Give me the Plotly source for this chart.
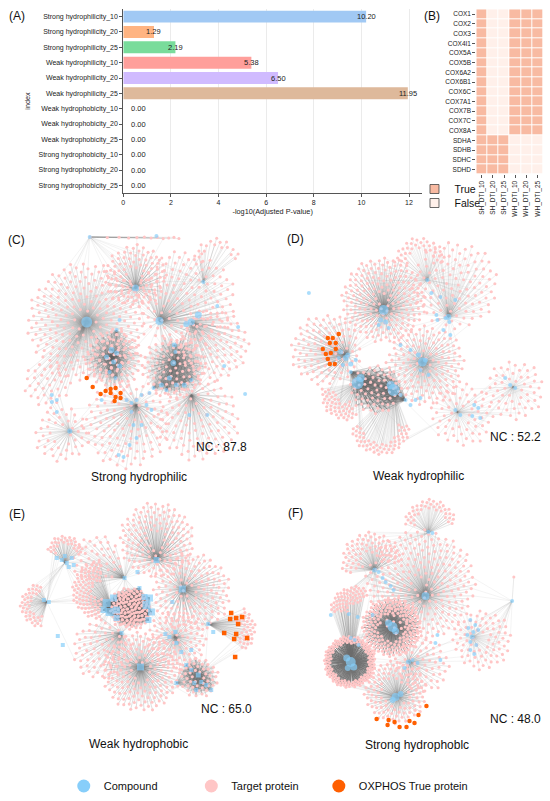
import math
import plotly.graph_objects as go

# ---------------- Panel A data ----------------
CATEGORIES = [
    "Strong hydrophilicity_10", "Strong hydrophilicity_20", "Strong hydrophilicity_25",
    "Weak hydrophilicity_10", "Weak hydrophilicity_20", "Weak hydrophilicity_25",
    "Weak hydrophobicity_10", "Weak hydrophobicity_20", "Weak hydrophobicity_25",
    "Strong hydrophobicity_10", "Strong hydrophobicity_20", "Strong hydrophobicity_25",
]
NEG_LOG10_P = [10.20, 1.29, 2.19, 5.38, 6.50, 11.95, 0.00, 0.00, 0.00, 0.00, 0.00, 0.00]
BAR_COLORS = ["#a1c9f4", "#ffb482", "#79dc9b", "#ff9f9b", "#d0bbff", "#deb99b",
              "#fab0e4", "#cfcfcf", "#fffea3", "#b9f2f0", "#a1c9f4", "#ffb482"]
X_TICKS = [0, 2, 4, 6, 8, 10, 12]

# ---------------- Panel B data ----------------
GENES = ["COX1", "COX2", "COX3", "COX4I1", "COX5A", "COX5B", "COX6A2", "COX6B1",
         "COX6C", "COX7A1", "COX7B", "COX7C", "COX8A", "SDHA", "SDHB", "SDHC", "SDHD"]
DTI_SETS = ["SH_DTI_10", "SH_DTI_20", "SH_DTI_25", "WH_DTI_10", "WH_DTI_20", "WH_DTI_25"]
COX_ROW = [1, 0, 0, 1, 1, 1]
SDH_ROW = [1, 1, 1, 0, 0, 0]
TRUE_MATRIX = [COX_ROW] * 13 + [SDH_ROW] * 4

# ---------------- Network panels (page-pixel layout specs) ----------------
# cluster: (cx, cy, radius, n_targets, hub_x, hub_y, hub_size, edge_alpha, ang0, ang1, inner)
C_CLUSTERS = [
    (85, 322, 60, 230, 85, 322, 11, 0.35, 0, 360, 0.15),
    (134, 276, 32, 95, 134, 288, 7, 0.40, 0, 360, 0.2),
    (185, 300, 50, 140, 158, 321, 8, 0.28, 0, 360, 0.0),
    (212, 345, 36, 90, 190, 322, 7, 0.28, 0, 360, 0.0),
    (112, 360, 30, 80, 110, 357, 0, 0.45, 0, 360, 0.0),
    (172, 368, 32, 90, 173, 362, 0, 0.45, 0, 360, 0.0),
    (125, 425, 44, 110, 135, 405, 0, 0.28, 0, 360, 0.0),
    (197, 420, 42, 100, 190, 395, 0, 0.28, 0, 360, 0.0),
    (60, 435, 28, 45, 68, 431, 5, 0.30, 0, 360, 0.3),
    (215, 262, 24, 18, 202, 282, 0, 0.30, 180, 360, 0.6),
    (45, 385, 24, 35, 85, 322, 0, 0.22, 0, 360, 0.0),
    (65, 237, 115, 12, 88, 237, 0, 0.25, 0, 1, 0.0),
]
C_COMPOUNDS = [
    (110, 350, 6), (115, 353, 5), (105, 357, 5), (112, 362, 5), (118, 366, 5), (108, 372, 4),
    (114, 378, 4), (173, 345, 5), (174, 352, 4), (172, 363, 6), (168, 378, 5), (160, 385, 5),
    (175, 385, 5), (183, 385, 5), (190, 380, 4), (165, 390, 4), (152, 388, 4), (148, 393, 4),
    (140, 395, 4), (135, 400, 4), (130, 403, 4), (125, 400, 4), (145, 405, 4), (150, 410, 4),
    (130, 412, 4), (132, 425, 4), (140, 425, 4), (135, 438, 4), (128, 445, 4), (117, 455, 4),
    (122, 457, 4), (100, 400, 4), (50, 395, 4), (55, 400, 4), (50, 402, 4), (55, 412, 4),
    (237, 327, 4), (216, 306, 4), (223, 366, 4), (244, 394, 4), (206, 415, 4), (188, 415, 4),
    (202, 282, 4), (88, 237, 4), (155, 236, 4), (115, 330, 4), (118, 320, 4), (197, 315, 7),
    (185, 324, 6),
]
C_OXPHOS = [(85, 378), (91, 387), (99, 394), (104, 391), (109, 393), (114, 388), (114, 397),
            (119, 393), (119, 398), (113, 401), (109, 389)]
C_DENSE = [(110, 360, 30, 0.09), (173, 365, 32, 0.09)]

D_CLUSTERS = [
    (383, 300, 43, 190, 383, 310, 10, 0.45, 0, 360, 0.1),
    (425, 365, 40, 130, 422, 362, 9, 0.40, 0, 360, 0.1),
    (325, 350, 36, 100, 347, 355, 5, 0.40, 0, 360, 0.0),
    (374, 390, 25, 60, 357, 383, 12, 0.55, 0, 360, 0.0),
    (455, 285, 44, 110, 448, 317, 0, 0.20, 0, 360, 0.0),
    (462, 415, 32, 60, 457, 412, 0, 0.18, 0, 360, 0.2),
    (515, 390, 30, 55, 513, 387, 0, 0.18, 0, 360, 0.2),
    (380, 425, 30, 55, 393, 390, 0, 0.25, 0, 180, 0.6),
    (345, 395, 25, 45, 357, 383, 0, 0.25, 60, 200, 0.3),
    (420, 263, 26, 35, 427, 280, 0, 0.20, 180, 360, 0.5),
]
D_COMPOUNDS = [
    (308, 293, 4), (427, 280, 4), (431, 293, 4), (440, 297, 4), (436, 315, 4), (445, 318, 4),
    (449, 322, 4), (437, 320, 4), (443, 330, 4), (450, 335, 4), (448, 317, 6), (455, 300, 4),
    (380, 320, 5), (385, 322, 5), (378, 325, 4), (388, 328, 4), (340, 352, 5), (345, 358, 6),
    (350, 364, 5), (355, 360, 4), (342, 365, 4), (338, 358, 4), (350, 372, 4), (400, 395, 4),
    (405, 400, 4), (410, 405, 4), (415, 400, 4), (420, 398, 4), (418, 355, 5), (425, 360, 5),
    (420, 370, 4), (428, 375, 4), (505, 378, 4), (510, 385, 4), (515, 388, 4), (474, 405, 4),
    (478, 408, 4), (472, 416, 4), (480, 418, 4), (455, 410, 4), (460, 415, 4), (410, 350, 4),
    (400, 345, 4), (393, 390, 12), (360, 378, 8), (390, 385, 8),
]
D_OXPHOS = [(327, 338), (329, 343), (335, 343), (338, 334), (322, 349), (325, 354), (330, 353),
            (335, 349), (327, 359), (329, 364), (334, 364), (332, 338)]
D_DENSE = [(375, 390, 27, 0.35)]

E_CLUSTERS = [
    (155, 540, 38, 140, 155, 560, 6, 0.40, 0, 360, 0.2),
    (190, 592, 40, 140, 181, 589, 7, 0.40, 0, 360, 0.1),
    (128, 607, 20, 90, 110, 607, 0, 0.50, 0, 360, 0.0),
    (130, 610, 20, 80, 147, 605, 0, 0.50, 0, 360, 0.0),
    (140, 672, 40, 160, 139, 667, 7, 0.45, 0, 360, 0.2),
    (100, 590, 30, 90, 110, 607, 0, 0.30, 90, 270, 0.3),
    (175, 640, 30, 90, 174, 637, 0, 0.35, 0, 360, 0.0),
    (198, 678, 20, 50, 197, 675, 0, 0.50, 0, 360, 0.2),
    (230, 630, 25, 35, 207, 624, 0, 0.30, -60, 60, 0.4),
    (63, 553, 18, 30, 63, 563, 0, 0.45, 180, 360, 0.5),
    (40, 605, 22, 40, 45, 602, 0, 0.35, 90, 270, 0.5),
    (100, 650, 30, 70, 120, 633, 0, 0.30, 0, 360, 0.0),
    (95, 560, 25, 45, 123, 578, 0, 0.30, 0, 360, 0.0),
]
E_COMPOUNDS = [
    (105, 603, 8), (112, 598, 7), (108, 612, 8), (115, 610, 7), (102, 610, 6), (115, 618, 6),
    (148, 598, 7), (145, 605, 8), (150, 612, 7), (147, 620, 6), (143, 597, 6),
    (190, 670, 4), (200, 682, 4), (205, 685, 4), (193, 683, 4), (185, 665, 4), (195, 690, 4),
    (210, 690, 4), (180, 652, 4), (174, 632, 4), (175, 643, 4), (168, 637, 4), (171, 602, 4),
    (136, 572, 4), (138, 588, 4), (123, 578, 4), (120, 633, 4), (207, 624, 4), (212, 632, 4),
    (164, 634, 4), (55, 558, 4), (60, 560, 4), (65, 563, 4), (70, 558, 4), (72, 565, 4),
    (67, 567, 4), (63, 556, 4), (42, 600, 4), (47, 602, 4), (56, 636, 4), (61, 645, 4),
    (190, 650, 4), (175, 683, 4), (197, 675, 5),
]
E_OXPHOS = [(230, 613), (235, 618), (241, 617), (229, 619), (237, 624), (223, 633), (235, 634),
            (246, 638), (233, 639), (234, 657)]
E_DENSE = [(128, 607, 22, 0.2), (197, 677, 20, 0.18)]

F_CLUSTERS = [
    (430, 525, 26, 40, 428, 533, 0, 0.30, 180, 360, 0.6),
    (370, 562, 30, 65, 374, 570, 5, 0.35, 150, 360, 0.3),
    (420, 585, 56, 240, 425, 596, 8, 0.30, 0, 360, 0.1),
    (391, 627, 30, 170, 392, 627, 0, 0.65, 0, 360, 0.45),
    (349, 662, 26, 140, 350, 662, 0, 0.90, 0, 360, 0.72),
    (482, 640, 30, 75, 472, 637, 0, 0.18, 0, 360, 0.2),
    (395, 692, 32, 110, 397, 697, 0, 0.45, 0, 360, 0.4),
    (422, 665, 28, 60, 408, 662, 0, 0.30, 0, 360, 0.0),
    (355, 612, 26, 55, 350, 662, 0, 0.30, 180, 300, 0.3),
    (513, 577, 1, 1, 512, 601, 0, 0.30, 0, 360, 0.0),
]
F_COMPOUNDS = [
    (428, 532, 4), (432, 533, 4), (378, 572, 4), (382, 578, 4), (385, 582, 4),
    (390, 586, 4), (393, 590, 4), (392, 627, 10), (388, 623, 7), (395, 631, 7), (350, 662, 10),
    (346, 658, 7), (353, 667, 7), (347, 668, 6), (395, 697, 8), (400, 694, 6), (392, 700, 6),
    (408, 662, 5), (412, 660, 4), (404, 668, 4), (417, 663, 4), (470, 620, 4), (475, 625, 4),
    (468, 628, 4), (473, 632, 4), (478, 630, 4), (472, 637, 5), (470, 642, 4), (476, 645, 4),
    (470, 650, 4), (474, 654, 4), (467, 635, 4), (512, 601, 4), (435, 643, 4), (437, 635, 4),
    (440, 660, 4), (357, 617, 4), (354, 640, 4), (358, 645, 4), (350, 638, 4), (330, 615, 4),
    (348, 614, 4), (372, 615, 4),
]
F_OXPHOS = [(376, 719), (388, 720), (394, 722), (387, 725), (399, 727), (406, 727), (409, 721),
            (414, 723), (418, 715), (426, 706)]
F_DENSE = []

NETWORKS = [
    ("(C)", "Strong hydrophilic", "NC : 87.8", C_CLUSTERS, C_COMPOUNDS, C_OXPHOS, C_DENSE,
     "circle", (15, 240), (137, 477), (220, 447)),
    ("(D)", "Weak hydrophilic", "NC : 52.2", D_CLUSTERS, D_COMPOUNDS, D_OXPHOS, D_DENSE,
     "circle", (295, 239), (418, 476), (515, 437)),
    ("(E)", "Weak hydrophobic", "NC : 65.0", E_CLUSTERS, E_COMPOUNDS, E_OXPHOS, E_DENSE,
     "square", (15, 514), (137, 744), (225, 709)),
    ("(F)", "Strong hydrophoblc", "NC : 48.0", F_CLUSTERS, F_COMPOUNDS, F_OXPHOS, F_DENSE,
     "circle", (295, 513), (417, 745), (515, 719)),
]

COMPOUND_COLOR = "#87cefa"
TARGET_COLOR = "#ffc6c6"
OXPHOS_COLOR = "#ff5f00"
TRUE_COLOR = "#f8baa2"
FALSE_COLOR = "#fff0ea"
FONT = "Liberation Sans"

GOLDEN = math.pi * (3 - math.sqrt(5))
PHI_FRAC = 0.6180339887


def place_targets(cx, cy, r, n, a0, a1, inner):
    pts = []
    span = a1 - a0
    for i in range(n):
        f = inner * inner + (1 - inner * inner) * (i + 0.5) / n
        rr = r * math.sqrt(f)
        if span >= 360:
            th = i * GOLDEN
        else:
            th = math.radians(a0 + ((i * PHI_FRAC) % 1.0) * span)
        pts.append((cx + rr * math.cos(th), cy + rr * math.sin(th)))
    return pts


fig = go.Figure()

# ---- Panel A: horizontal bars ----
fig.add_trace(go.Bar(
    x=NEG_LOG10_P, y=CATEGORIES, orientation="h", marker=dict(color=BAR_COLORS, line_width=0),
    width=0.78, showlegend=False, xaxis="x", yaxis="y", hoverinfo="x+y"))

annotations = []
for cat, v in zip(CATEGORIES, NEG_LOG10_P):
    annotations.append(dict(
        x=v if v > 0 else 0.62, y=cat, xref="x", yref="y", text=f"{v:.2f}", showarrow=False,
        xanchor="center", yanchor="middle", font=dict(family=FONT, size=7.5, color="#222")))

# ---- Panel B: heatmap ----
fig.add_trace(go.Heatmap(
    z=TRUE_MATRIX, x=DTI_SETS, y=GENES, colorscale=[[0, FALSE_COLOR], [1, TRUE_COLOR]],
    zmin=0, zmax=1, showscale=False, xgap=1, ygap=1, xaxis="x2", yaxis="y2"))
for name, col, lg in (("True", TRUE_COLOR, "legend"), ("False", FALSE_COLOR, "legend2")):
    fig.add_trace(go.Scatter(
        x=[None], y=[None], mode="markers", name=name, legend=lg,
        marker=dict(symbol="square", size=9, color=col, line=dict(color="#444", width=0.8)),
        xaxis="x2", yaxis="y2"))

# ---- Networks ----
for (label, title, nc, clusters, compounds, oxphos, dense, sym, lpos, tpos, ncpos) in NETWORKS:
    tx, ty = [], []
    cluster_hubs = [(c[4], c[5]) for c in clusters]
    allc = [(c[4], c[5], c[6]) for c in clusters if c[6] > 0] + list(compounds)
    cx_, cy_ = [], []  # cross links between neighbouring hubs
    for ci, (cx, cy, r, n, hx, hy, hs, alpha, a0, a1, inner) in enumerate(clusters):
        pts = place_targets(cx, cy, r, n, a0, a1, inner)
        ex, ey = [], []
        for k, (px, py) in enumerate(pts):
            ex += [hx, px, None]
            ey += [hy, py, None]
            tx.append(px)
            ty.append(py)
            if k % 4 == 0:
                best = None
                for hj, (qx, qy) in enumerate(cluster_hubs):
                    if hj == ci or (qx, qy) == (hx, hy):
                        continue
                    d = (qx - px) ** 2 + (qy - py) ** 2
                    if best is None or d < best[0]:
                        best = (d, qx, qy)
                if best is not None and best[0] < 70 ** 2:
                    cx_ += [best[1], px, None]
                    cy_ += [best[2], py, None]
        fig.add_trace(go.Scatter(
            x=ex, y=ey, mode="lines",
            line=dict(color=f"rgba(110,110,110,{alpha})", width=1.0 if alpha >= 0.6 else 0.5),
            hoverinfo="skip", showlegend=False, xaxis="x3", yaxis="y3"))
    fig.add_trace(go.Scatter(
        x=cx_, y=cy_, mode="lines", line=dict(color="rgba(130,130,130,0.18)", width=0.5),
        hoverinfo="skip", showlegend=False, xaxis="x3", yaxis="y3"))
    for (zx, zy, zr, za) in dense:
        zc = [(c[0], c[1]) for c in allc if (c[0] - zx) ** 2 + (c[1] - zy) ** 2 <= (zr + 5) ** 2]
        dx, dy = [], []
        for px, py in zip(tx, ty):
            if (px - zx) ** 2 + (py - zy) ** 2 <= zr ** 2:
                for (qx, qy) in zc:
                    dx += [qx, px, None]
                    dy += [qy, py, None]
        fig.add_trace(go.Scatter(
            x=dx, y=dy, mode="lines", line=dict(color=f"rgba(100,100,100,{za})", width=0.5),
            hoverinfo="skip", showlegend=False, xaxis="x3", yaxis="y3"))
    fig.add_trace(go.Scatter(
        x=tx, y=ty, mode="markers", marker=dict(color=TARGET_COLOR, size=3.1, line_width=0),
        hoverinfo="skip", showlegend=False, xaxis="x3", yaxis="y3"))
    fig.add_trace(go.Scatter(
        x=[c[0] for c in allc], y=[c[1] for c in allc], mode="markers",
        marker=dict(color=COMPOUND_COLOR, size=[c[2] for c in allc], symbol=sym, line_width=0),
        hoverinfo="skip", showlegend=False, xaxis="x3", yaxis="y3"))
    fig.add_trace(go.Scatter(
        x=[o[0] for o in oxphos], y=[o[1] for o in oxphos], mode="markers",
        marker=dict(color=OXPHOS_COLOR, size=4.5, symbol=sym, line_width=0),
        hoverinfo="skip", showlegend=False, xaxis="x3", yaxis="y3"))
    annotations.append(dict(x=lpos[0], y=lpos[1], xref="x3", yref="y3", text=label,
                            showarrow=False, font=dict(family=FONT, size=12, color="#111")))
    annotations.append(dict(x=tpos[0], y=tpos[1], xref="x3", yref="y3", text=title,
                            showarrow=False, font=dict(family=FONT, size=12, color="#111")))
    annotations.append(dict(x=ncpos[0], y=ncpos[1], xref="x3", yref="y3", text=nc,
                            showarrow=False, font=dict(family=FONT, size=12, color="#111")))

annotations.append(dict(x=15, y=16, xref="x3", yref="y3", text="(A)", showarrow=False,
                        font=dict(family=FONT, size=12, color="#111")))
annotations.append(dict(x=432, y=16, xref="x3", yref="y3", text="(B)", showarrow=False,
                        font=dict(family=FONT, size=12, color="#111")))

# bottom legend (one legend box per entry)
BOTTOM_LEGEND = [("Compound", COMPOUND_COLOR, "legend3"), ("Target protein", TARGET_COLOR, "legend4"),
                 ("OXPHOS True protein", OXPHOS_COLOR, "legend5")]
for name, col, lg in BOTTOM_LEGEND:
    fig.add_trace(go.Scatter(
        x=[None], y=[None], mode="markers", name=name, legend=lg,
        marker=dict(color=col, size=13, line_width=0), xaxis="x3", yaxis="y3"))

axis_font = dict(family=FONT, size=7, color="#222")
small_font = dict(family=FONT, size=6.5, color="#222")


def leg(xpx, ypx, size):
    return dict(x=xpx / 550, y=1 - ypx / 801, xanchor="left", yanchor="middle",
                bgcolor="rgba(0,0,0,0)", font=dict(family=FONT, size=size, color="#111"),
                itemsizing="trace", borderwidth=0)


fig.update_layout(
    width=550, height=801, margin=dict(l=0, r=0, t=0, b=0),
    paper_bgcolor="white", plot_bgcolor="rgba(0,0,0,0)",
    annotations=annotations,
    xaxis=dict(domain=[0.2213, 0.7666], range=[0, 12.55], tickvals=X_TICKS, showgrid=True,
               gridcolor="#ebebeb", gridwidth=0.8, showline=True, linecolor="#555", linewidth=1,
               ticks="outside", ticklen=3, tickcolor="#555", tickfont=axis_font, zeroline=False,
               title=dict(text="-log10(Adjusted P-value)", font=dict(family=FONT, size=7.3, color="#222"),
                          standoff=3),
               anchor="y", fixedrange=True),
    yaxis=dict(domain=[0.759, 0.9888], categoryorder="array", categoryarray=CATEGORIES,
               autorange="reversed", showline=True, linecolor="#555", linewidth=1, ticks="outside",
               ticklen=3, tickcolor="#555", tickfont=axis_font, showgrid=False,
               title=dict(text="index", font=dict(family=FONT, size=7.3, color="#222"), standoff=6),
               anchor="x", fixedrange=True),
    xaxis2=dict(domain=[0.8655, 0.9873], tickangle=-90, ticks="outside", ticklen=3,
                tickcolor="#555", tickfont=small_font,
                showgrid=False, zeroline=False, anchor="y2", fixedrange=True),
    yaxis2=dict(domain=[0.7824, 0.9884], autorange="reversed", ticks="outside", ticklen=3,
                tickcolor="#555", tickfont=small_font,
                showgrid=False, zeroline=False, anchor="x2", fixedrange=True),
    xaxis3=dict(domain=[0, 1], range=[0, 550], visible=False, fixedrange=True, anchor="y3"),
    yaxis3=dict(domain=[0, 1], range=[801, 0], visible=False, fixedrange=True, anchor="x3"),
    legend=leg(414, 189, 10.5),
    legend2=leg(414, 203, 10.5),
    legend3=leg(62, 786, 11),
    legend4=leg(190, 786, 11),
    legend5=leg(318, 786, 11),
)

fig.write_html("out.html", config={"displayModeBar": False},
               post_script="document.body.style.margin='0px';")
